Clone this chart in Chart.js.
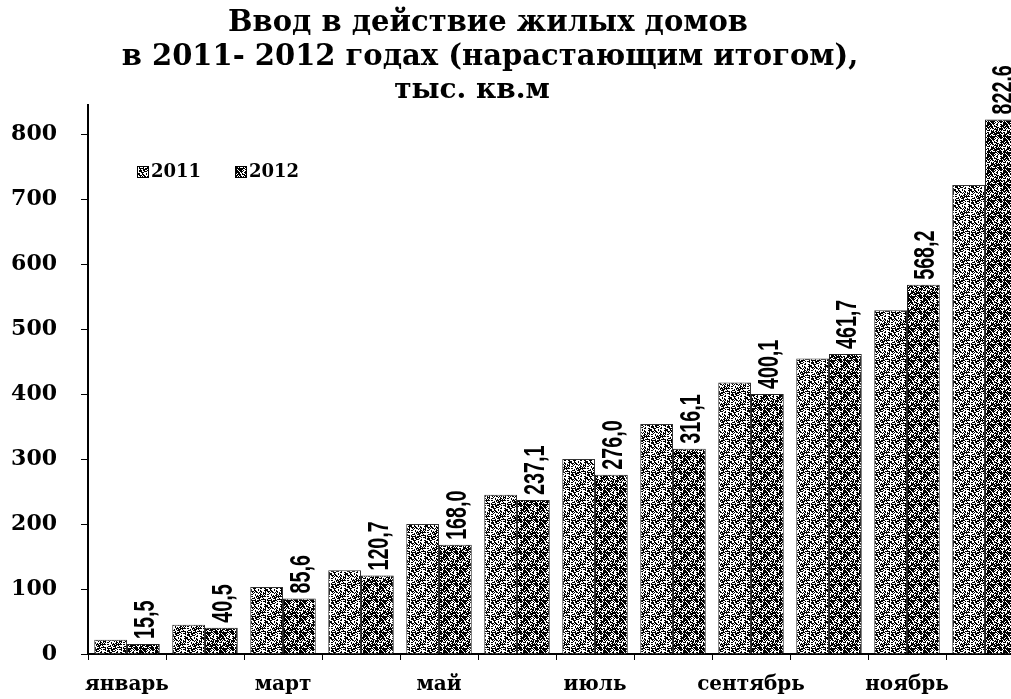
<!DOCTYPE html>
<html>
<head>
<meta charset="utf-8">
<script src="https://cdn.jsdelivr.net/npm/chart.js@4.4.0/dist/chart.umd.min.js"></script>
<style>
  html, body { margin: 0; padding: 0; background: #fff; overflow: hidden; }
  #wrap { width: 1030px; height: 699px; position: relative; }
</style>
</head>
<body>
<div id="wrap"><canvas id="myChart"></canvas></div>
<script>
// data
const months = ['январь', 'февраль', 'март', 'апрель', 'май', 'июнь', 'июль', 'август', 'сентябрь', 'октябрь', 'ноябрь', 'декабрь'];
const values2011 = [22, 45, 103, 129, 200, 245, 300, 354, 418, 455, 529, 722];
const values2012 = [15.5, 40.5, 85.6, 120.7, 168.0, 237.1, 276.0, 316.1, 400.1, 461.7, 568.2, 822.6];
const seriesNames = ['2011', '2012'];
const titleLines = ['Ввод в действие жилых домов', 'в 2011- 2012 годах (нарастающим итогом),', 'тыс. кв.м'];
const yMax = 845;
const yStep = 100;

const serif = "'DejaVu Serif', 'Liberation Serif', serif";
const sans = "'Liberation Sans', 'DejaVu Sans', sans-serif";

// grey stipple like the scanned print
function stipple(density) {
  const size = 16;
  const c = document.createElement('canvas');
  c.width = c.height = size;
  const g = c.getContext('2d');
  g.fillStyle = '#fff';
  g.fillRect(0, 0, size, size);
  g.fillStyle = '#000';
  for (let y = 0; y < size; y++) {
    for (let x = 0; x < size; x++) {
      const h = (((x * 73856093) ^ (y * 19349663) ^ (x * y * 83492791)) >>> 0) % 101;
      if (h < density * 101) g.fillRect(x, y, 1, 1);
    }
  }
  return g.createPattern(c, 'repeat');
}

const fill2011 = stipple(0.45);
const fill2012 = stipple(0.6);

const titlePlugin = {
  id: 'titleText',
  afterDraw(chart) {
    const ctx = chart.ctx;
    ctx.save();
    ctx.fillStyle = '#000';
    ctx.textAlign = 'center';
    ctx.textBaseline = 'middle';
    ctx.font = 'bold 29px ' + serif;
    ctx.fillText(titleLines[0], 488, 23);
    ctx.fillText(titleLines[1], 490, 57);
    ctx.font = 'bold 28px ' + serif;
    ctx.fillText(titleLines[2], 472, 91);
    ctx.restore();
  }
};

const legendPlugin = {
  id: 'legendText',
  afterDraw(chart) {
    const ctx = chart.ctx;
    const x0 = chart.chartArea.left + 49;
    const y0 = 172;
    const fills = [fill2011, fill2012];
    ctx.save();
    ctx.font = 'bold 18px ' + serif;
    ctx.textBaseline = 'middle';
    seriesNames.forEach((name, i) => {
      const x = x0 + i * 98;
      ctx.fillStyle = fills[i];
      ctx.fillRect(x, y0 - 6, 12, 12);
      ctx.strokeStyle = '#000';
      ctx.lineWidth = 1;
      ctx.strokeRect(x + 0.5, y0 - 5.5, 11, 11);
      ctx.fillStyle = '#000';
      ctx.fillText(name, x + 14, y0);
    });
    ctx.restore();
  }
};

const valueLabels = {
  id: 'valueLabels',
  afterDatasetsDraw(chart) {
    const ctx = chart.ctx;
    const meta = chart.getDatasetMeta(1);
    ctx.save();
    ctx.font = 'bold 29px ' + sans;
    ctx.fillStyle = '#000';
    ctx.textAlign = 'left';
    ctx.textBaseline = 'middle';
    meta.data.forEach((bar, i) => {
      const txt = values2012[i].toFixed(1).replace('.', ',');
      ctx.save();
      ctx.translate(bar.x + 3, bar.y - 5);
      ctx.rotate(-Math.PI / 2);
      ctx.scale(0.68, 1);
      ctx.fillText(txt, 0, 0);
      ctx.restore();
    });
    ctx.restore();
  }
};

const data = {
  labels: months,
  datasets: [
    {
      label: seriesNames[0],
      data: values2011,
      backgroundColor: fill2011,
      borderColor: '#333',
      borderWidth: 1,
      categoryPercentage: 0.84,
      barPercentage: 1.0
    },
    {
      label: seriesNames[1],
      data: values2012,
      backgroundColor: fill2012,
      borderColor: '#222',
      borderWidth: 1,
      categoryPercentage: 0.84,
      barPercentage: 1.0
    }
  ]
};

const config = {
  type: 'bar',
  data: data,
  options: {
    responsive: true,
    maintainAspectRatio: false,
    animation: false,
    layout: { padding: { top: 105, right: 6, left: 0, bottom: 0 } },
    plugins: {
      legend: { display: false },
      title: { display: false },
      tooltip: { enabled: false }
    },
    scales: {
      x: {
        grid: { drawOnChartArea: false, drawTicks: true, tickLength: 6, color: '#000', offset: true },
        border: { display: true, color: '#000', width: 2 },
        ticks: {
          autoSkip: false,
          maxRotation: 0,
          padding: 13,
          color: '#000',
          font: { family: serif, size: 20, weight: 'bold' },
          callback: (v, i) => (i % 2 === 0 ? months[i] : '')
        },
        afterFit: (scale) => { scale.height = 45; }
      },
      y: {
        min: 0,
        max: yMax,
        grid: { drawOnChartArea: false, drawTicks: true, tickLength: 7, color: '#000' },
        border: { display: true, color: '#000', width: 2 },
        ticks: {
          stepSize: yStep,
          padding: 24,
          color: '#000',
          font: { family: serif, size: 22, weight: 'bold' }
        },
        afterBuildTicks: (scale) => {
          scale.ticks = scale.ticks.filter(t => t.value % yStep === 0);
        },
        afterFit: (scale) => { scale.width = 88; }
      }
    }
  },
  plugins: [valueLabels, titlePlugin, legendPlugin]
};

const myChart = new Chart(document.getElementById('myChart'), config);
</script>
</body>
</html>
